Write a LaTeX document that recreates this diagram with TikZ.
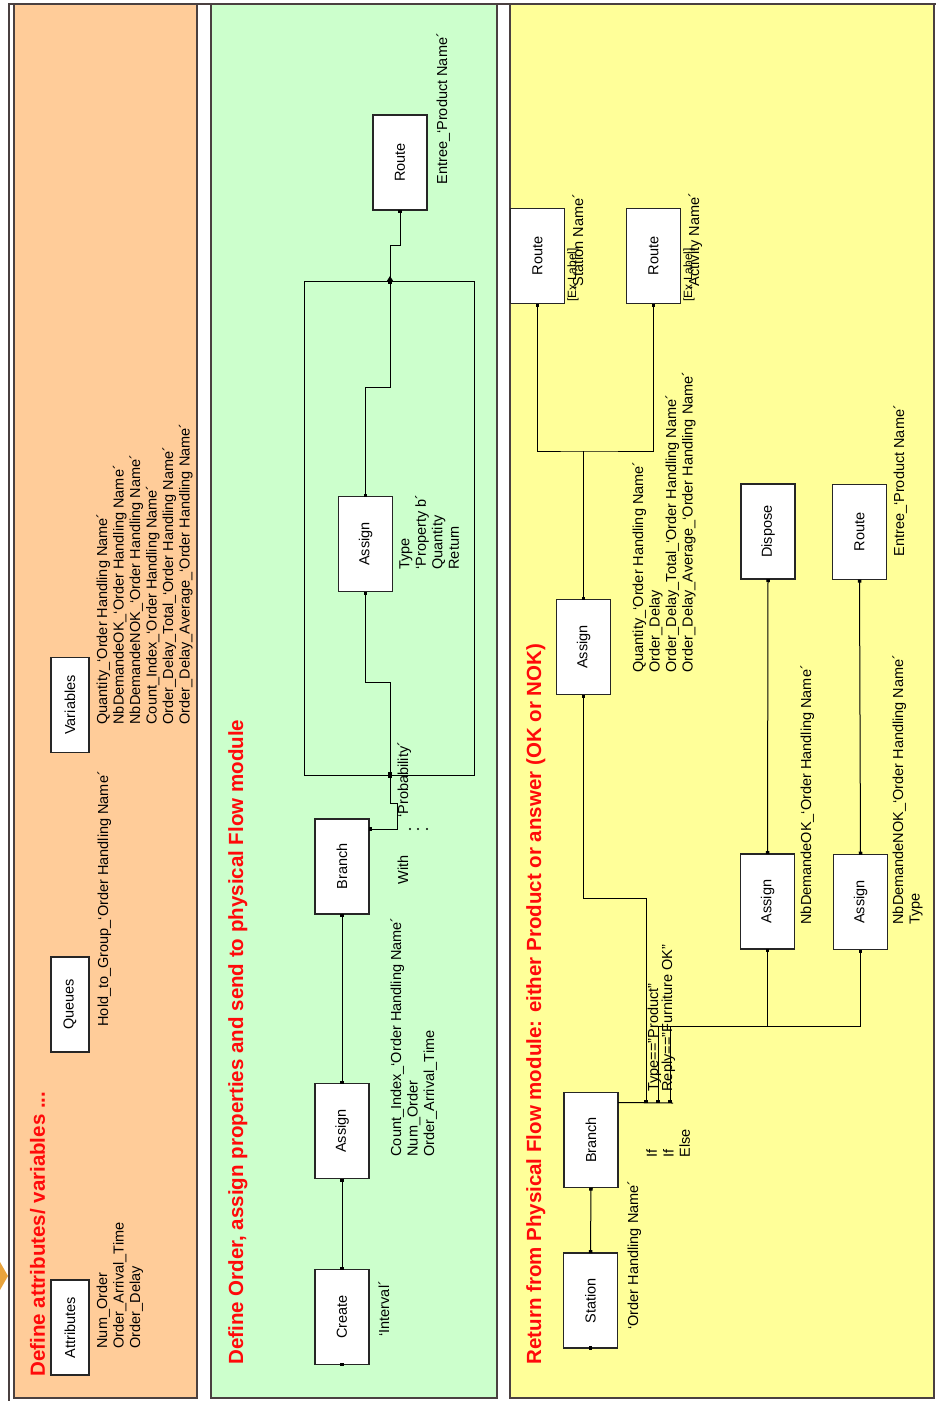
\documentclass[tikz,border=0pt]{standalone}
\usepackage{fontspec}
\setmainfont{Liberation Sans}
\usetikzlibrary{arrows.meta}
\definecolor{corange}{HTML}{FFCC99}
\definecolor{cgreen}{HTML}{CCFFCC}
\definecolor{cyellow}{HTML}{FFFF99}
\definecolor{cframe}{HTML}{4A4040}
\definecolor{cred}{HTML}{FF0A0A}
\definecolor{cgold}{HTML}{E8A33C}
\newcommand{\ohn}{`Order Handling Name´}
\tikzset{
  every picture/.style={line width=1pt, >={Square[length=3pt,width=3.5pt]}},
  module/.style={draw=black!85, fill=white, rotate=90, minimum width=95pt, minimum height=54pt, inner sep=0pt, outer sep=0pt, line width=1.2pt, font=\fontsize{14.5}{16.5}\selectfont},
  datamod/.style={module, minimum height=38pt},
  note/.style={rotate=90, anchor=north west, inner sep=0pt, align=left, font=\fontsize{14.5}{16.5}\selectfont},
  smallnote/.style={note, font=\fontsize{12}{14}\selectfont},
  title/.style={rotate=90, anchor=base west, inner sep=0pt, text=cred, font=\fontsize{20.5}{24}\selectfont\bfseries},
  link/.style={draw=black, line width=1pt, <->},
  wire/.style={draw=black, line width=1pt},
  pin/.style={fill=black, inner sep=0pt, minimum size=3.5pt},
  panel/.style={draw=cframe, line width=1.4pt},
}

\begin{document}
\begin{tikzpicture}[x=1pt, y=-1pt]
  \useasboundingbox (0,0) rectangle (936,1401);
  % panels
  \draw[panel, fill=corange] (14,4) rectangle (197,1398);
  \draw[panel, fill=cgreen] (211,4) rectangle (497,1398);
  \draw[panel, fill=cyellow] (510,4) rectangle (934,1398);
  \draw[panel] (9,1401) -- (9,4) -- (936,4);
  \fill[cgold] (0,1262) -- (8,1276) -- (0,1290) -- cycle;

  % data modules
  \node[title] (ttlA) at (45,1377) {Define attributes/ variables ...};
  \node[datamod] (attributes) at (70,1327.5) {Attributes};
  \node[datamod] (queues) at (70,1004.5) {Queues};
  \node[datamod] (variables) at (70,705) {Variables};
  \node[note] (attrtxt) at (96,1349) {Num\_Order\\Order\_Arrival\_Time\\Order\_Delay};
  \node[note] (queuetxt) at (97,1027) {Hold\_to\_Group\_\ohn};
  \node[note] (vartxt) at (96,725) {Quantity\_\ohn\\NbDemandeOK\_\ohn\\NbDemandeNOK\_\ohn\\Count\_Index\_\ohn\\Order\_Delay\_Total\_\ohn\\Order\_Delay\_Average\_\ohn};

  % order creation
  \node[title] (ttlB) at (243,1365) {Define Order, assign properties and send to physical Flow module};
  \node[module] (create) at (342,1317) {Create};
  \node[module] (assignA) at (342,1131) {Assign};
  \node[module] (branchA) at (342,866.5) {Branch};
  \node[module] (assignB) at (365.5,544) {Assign};
  \node[module] (routeA) at (400,162.5) {Route};
  \node[note] (createtxt) at (378,1337) {`Interval´};
  \node[note] (assignAtxt) at (390,1157) {Count\_Index\_\ohn\\Num\_Order\\Order\_Arrival\_Time};
  \node[note] (branchAtxt) at (397,885) {With};
  \node[note] (probtxt) at (397,818) {`Probability´};
  \node[note] (assignBtxt) at (399,570) {Type\\`Property b´\\Quantity\\Return};
  \node[note] (routeAtxt) at (436,185) {Entree\_`Product Name´};
  \coordinate (bjoin) at (390,775);
  \coordinate (tjoin) at (390,281);
  \node[pin] at (create.west) {};
  \draw[link] (create.east) -- (assignA.west);
  \draw[link] (assignA.east) -- (branchA.west);
  \draw[link] ([yshift=-10pt]branchA.south east) -- (397,829) -- (397,803) -- (390,803) -- (bjoin);
  \foreach \dx in {410,418,427} \fill (\dx,829) circle (1.1pt);
  \draw[wire] (bjoin) -| (304,281) -- (tjoin);
  \draw[wire] (bjoin) -| (474,281) -- (tjoin);
  \draw[link] (bjoin) -- (390,682) -| (assignB.west);
  \draw[link] (assignB.east) |- (390,387) -- (tjoin);
  \draw[wire, {Triangle[length=5pt,width=6pt,reversed]}->] (tjoin) -- (390,245) -| (routeA.west);

  % return flow
  \node[title] (ttlC) at (541,1365) {Return from Physical Flow module: either Product or answer (OK or NOK)};
  \node[module] (station) at (590.5,1300.5) {Station};
  \node[module] (branchB) at (591,1140) {Branch};
  \node[module] (assignC) at (583.5,647) {Assign};
  \node[module] (routeB) at (537.5,256) {Route};
  \node[module] (routeC) at (653.5,256) {Route};
  \node[module] (dispose) at (768,531.5) {Dispose};
  \node[module] (routeD) at (859.5,532) {Route};
  \node[module] (assignOK) at (767.5,901.5) {Assign};
  \node[module] (assignNOK) at (860.5,902) {Assign};
  \node[note] (stationtxt) at (627,1330) {\ohn};
  \node[note] (branchBtxt) at (646,1158) {If\\If\\Else};
  \node[note] (typetxt) at (647,1092) {Type=="Product"};
  \node[note] (replytxt) at (661,1092) {Reply=="Furniture OK"};
  \node[note] (assignCtxt) at (632,673) {Quantity\_\ohn\\Order\_Delay\\Order\_Delay\_Total\_\ohn\\Order\_Delay\_Average\_\ohn};
  \node[smallnote] (routeBlbl) at (567,302) {[Ex Label]};
  \node[note] (routeBtxt) at (572,290) {`Station Name´};
  \node[smallnote] (routeClbl) at (683,302) {[Ex Label]};
  \node[note] (routeCtxt) at (688,290) {`Activity Name´};
  \node[note] (routeDtxt) at (893,557) {Entree\_`Product Name´};
  \node[note] (assignOKtxt) at (800,925) {NbDemandeOK\_\ohn};
  \node[note] (assignNOKtxt) at (892,925) {NbDemandeNOK\_\ohn\\Type};
  \coordinate (split) at (583.5,451);
  \node[pin] at (station.west) {};
  \draw[link] (station.east) -- (branchB.west);
  \draw[wire] ([yshift=-10pt]branchB.south east) -- (673,1103);
  \draw[link] (646,1103) -- (646,898) -| (assignC.west);
  \draw[link] (658,1103) -- (658,1026) -| (assignOK.west);
  \draw[link] (670,1103) -- (670,1026) -| (assignNOK.west);
  \draw[wire, <-] (assignC.east) -- (split);
  \draw[link] (routeB.west) |- (split) -| (routeC.west);
  \draw[link] (assignOK.east) -- (dispose.west);
  \draw[link] (assignNOK.east) -- (routeD.west);
\end{tikzpicture}
\end{document}
